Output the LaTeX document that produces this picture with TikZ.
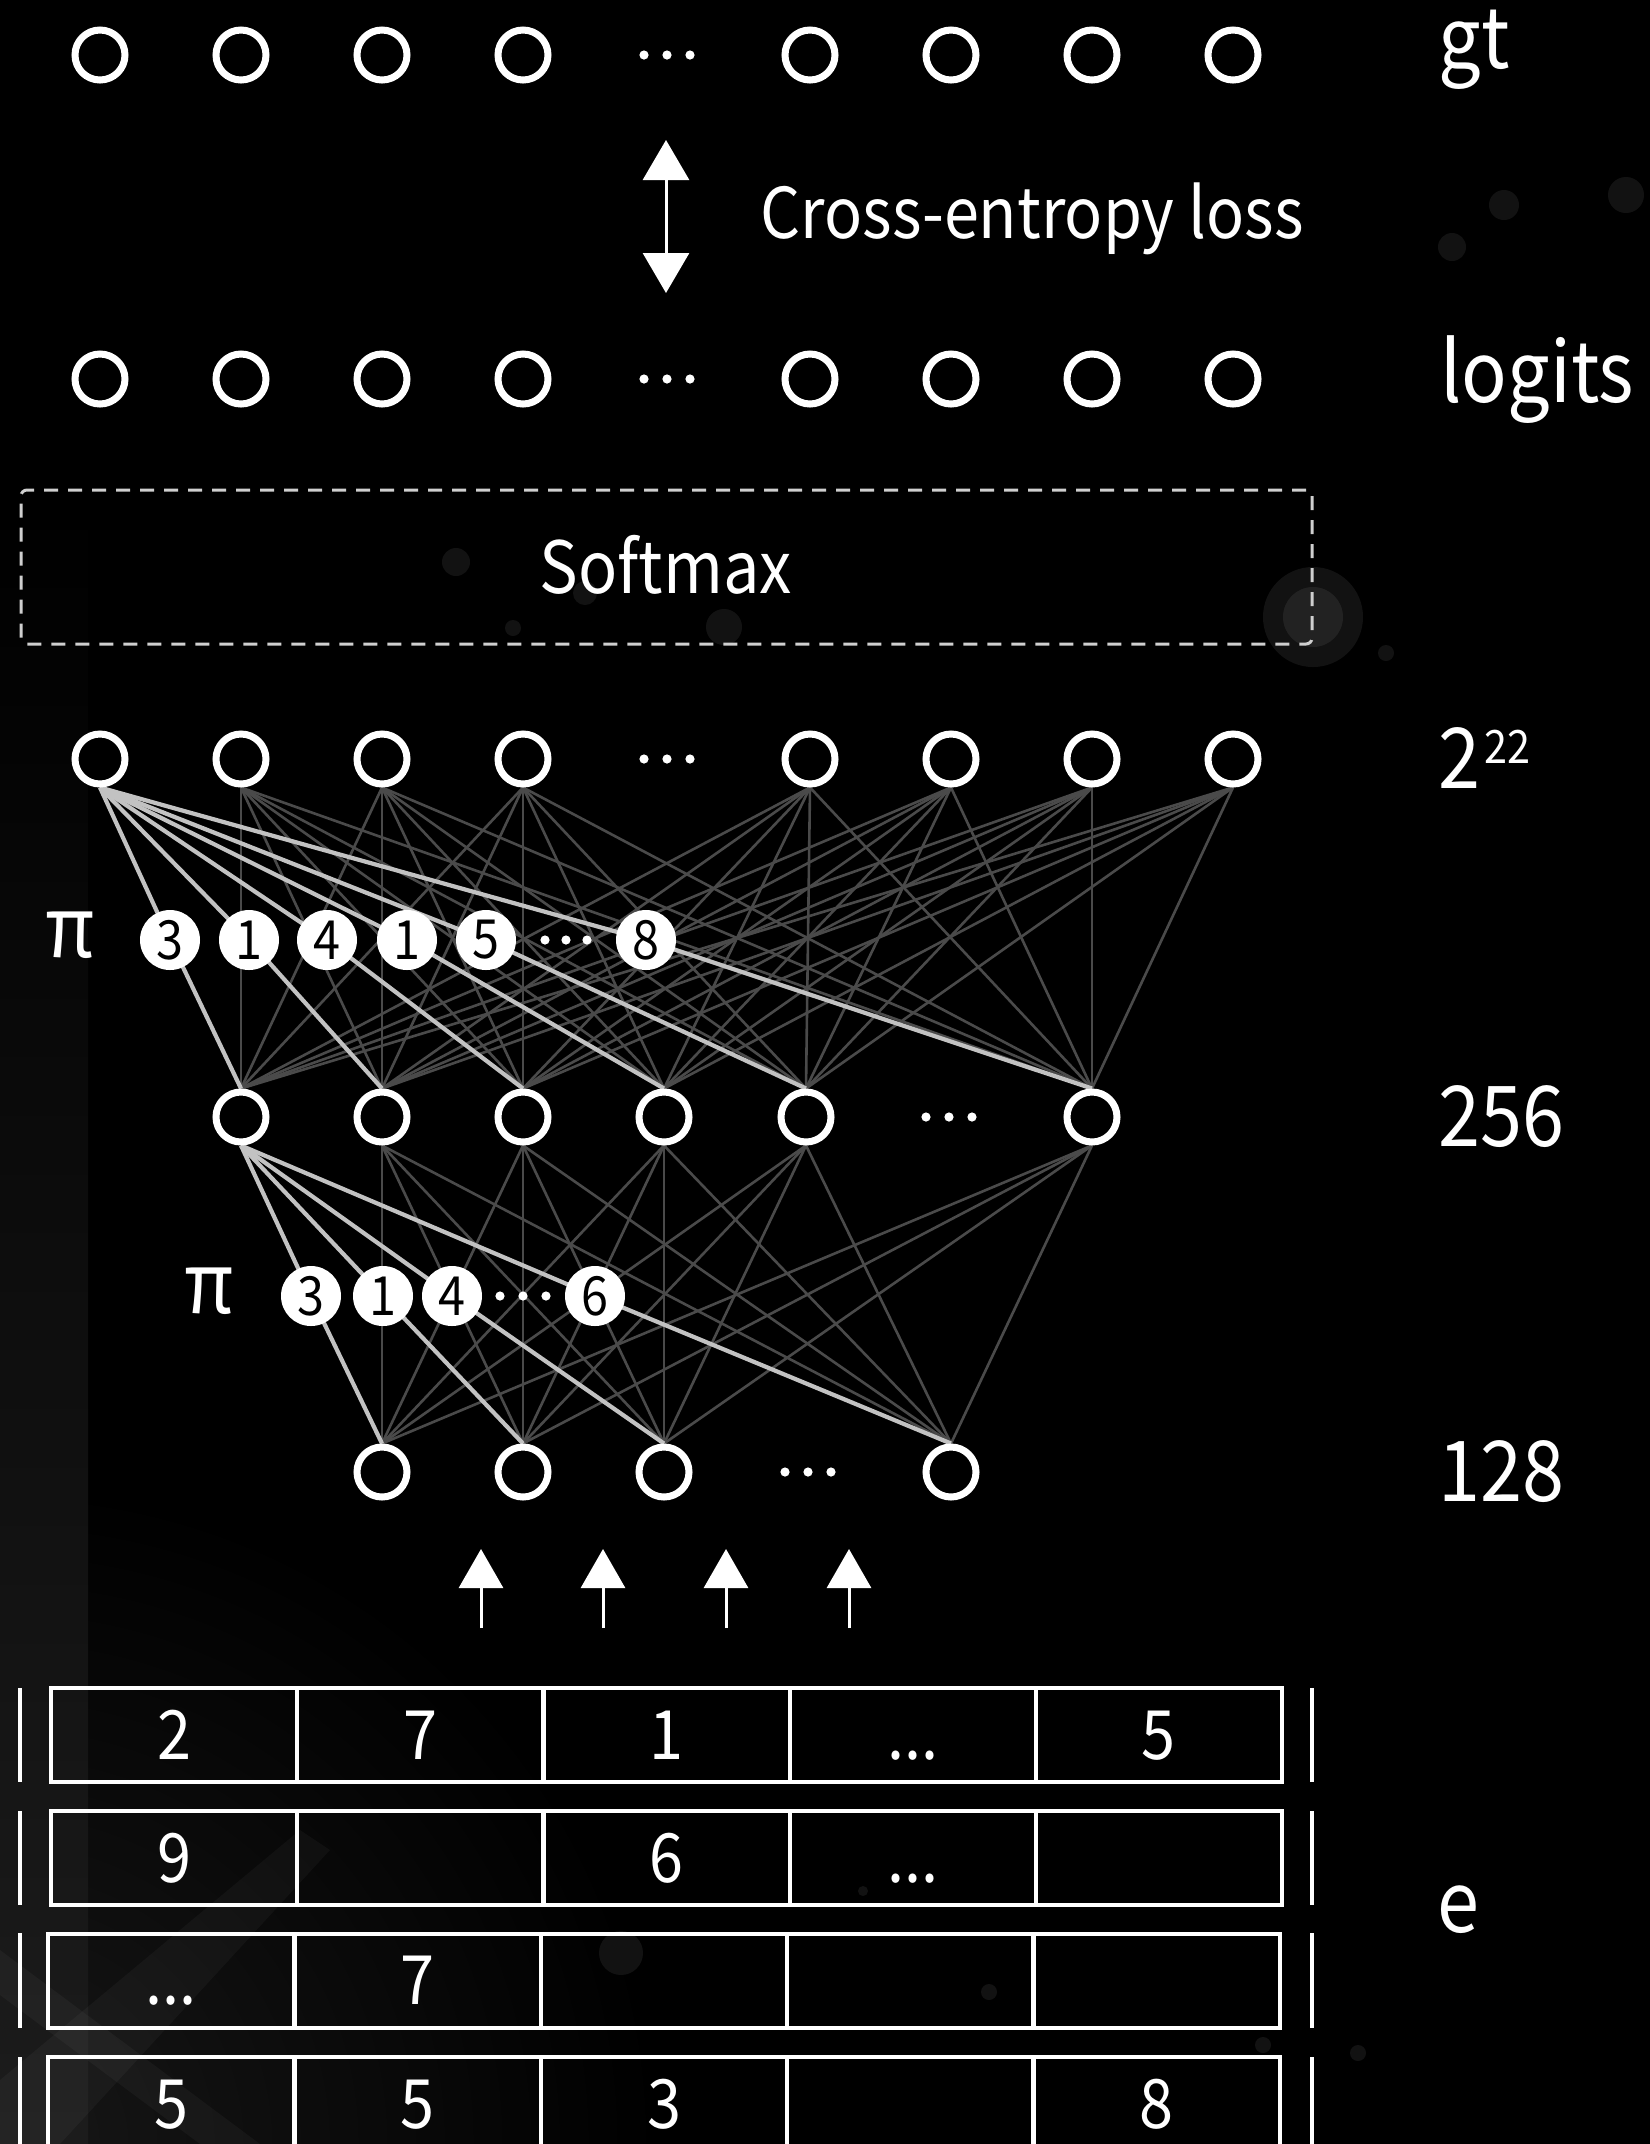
\documentclass[tikz,border=0pt]{standalone}
\usepackage{fontspec}
\setmainfont{Noto Sans CJK SC}[FakeStretch=0.9]
\usetikzlibrary{arrows.meta}
\pgfdeclarelayer{backdrop}
\pgfdeclarelayer{wires}
\pgfsetlayers{backdrop,wires,main}
\definecolor{wiregray}{HTML}{4A4A4A}
\definecolor{hotgray}{HTML}{C2C2C2}
\definecolor{dashgray}{HTML}{CFCFCF}

% three small dots standing for omitted units
\newcommand\unitdots[3]{%
  \fill[white] ({#1-#3},#2) circle (2.3pt) (#1,#2) circle (2.3pt) ({#1+#3},#2) circle (2.3pt);}

\begin{document}
\begin{tikzpicture}[x=0.5pt,y=-0.5pt,
  unit/.style={circle,draw=white,fill=black,line width=3.5pt,inner sep=0pt,minimum size=25pt},
  perm/.style={circle,fill=white,text=black,inner sep=0pt,minimum size=30pt,font=\fontsize{27}{27}\selectfont},
  wire/.style={draw=wiregray,line width=1.3pt},
  hot/.style={draw=hotgray,line width=2.1pt},
  rowlabel/.style={anchor=base west,text=white,inner sep=0pt,font=\fontsize{42}{42}\selectfont},
  cell/.style={draw=white,line width=2pt,rectangle,inner sep=0pt,minimum width=123pt,minimum height=47pt,
    text height=24pt,text depth=0pt,text=white,font=\fontsize{34}{34}\selectfont},
  bar/.style={draw=white,line width=2pt},
  bokeh/.style={fill=white,opacity=0.07},
  uparrow/.style={draw=white,line width=1.5pt,-{Triangle[width=22pt,length=19.5pt]}},
]
\useasboundingbox (0,0) rectangle (1650,2144);

% ---------- backdrop ----------
\begin{pgfonlayer}{backdrop}
  \fill[black] (0,0) rectangle (1650,2144);
  \shade[inner color=white!9!black, outer color=black] (0,2144) circle (330pt);
  \shade[top color=black, bottom color=white!11!black] (0,500) rectangle (88,2144);
  \fill[white,opacity=0.035] (0,1950) -- (260,2144) -- (200,2144) -- (0,1995) -- cycle;
  \fill[white,opacity=0.035] (0,2080) -- (300,1830) -- (330,1850) -- (60,2144) -- (0,2144) -- cycle;
  \fill[bokeh] (1313,617) circle (25pt);
  \fill[bokeh] (1313,617) circle (15pt);
  \fill[bokeh] (1504,205) circle (7.5pt);
  \fill[bokeh] (1452,247) circle (7pt);
  \fill[bokeh] (1626,195) circle (9pt);
  \fill[bokeh] (1386,653) circle (4pt);
  \fill[bokeh] (456,562) circle (7pt);
  \fill[bokeh] (585,593) circle (6pt);
  \fill[bokeh] (724,627) circle (9pt);
  \fill[bokeh] (513,628) circle (4pt);
  \fill[bokeh] (621,1953) circle (11pt);
  \fill[bokeh] (989,1992) circle (4pt);
  \fill[bokeh] (1263,2045) circle (4pt);
  \fill[bokeh] (1358,2053) circle (4pt);
  \fill[bokeh] (863,1891) circle (2.5pt);
\end{pgfonlayer}

% ---------- ground truth and logits ----------
\foreach \x [count=\i] in {100,241,382,523,810,951,1092,1233} {
  \node[unit] (gt\i) at (\x,55) {};
  \node[unit] (lg\i) at (\x,379) {};
}
\unitdots{667}{55}{23}
\unitdots{667}{379}{23}
\node[rowlabel] (gtlabel) at (1438,68) {gt};
\node[rowlabel] (lglabel) at (1440,402) {logits};

\coordinate (lossTop) at (666,140);
\coordinate (lossBot) at (666,293);
\draw[white,line width=1.5pt,{Triangle[width=23pt,length=20pt]}-{Triangle[width=23pt,length=20pt]}] (lossTop) -- (lossBot);
\node[anchor=base west,text=white,inner sep=0pt,font=\fontsize{35}{35}\selectfont] (losslabel) at (760,238) {Cross-entropy loss};

% ---------- softmax ----------
\node[draw=dashgray,line width=1.5pt,dash pattern=on 7pt off 5pt,rounded corners=3pt,
  minimum width=645.5pt,minimum height=77pt,inner sep=0pt] (softbox) at (666.5,567) {};
\node[anchor=base,text=white,inner sep=0pt,font=\fontsize{36}{36}\selectfont] (softlabel) at (666,593) {Softmax};

% ---------- hidden layers ----------
\foreach \x [count=\i] in {100,241,382,523,810,951,1092,1233}
  \node[unit] (h\i) at (\x,759) {};
\unitdots{667}{759}{23}
\node[rowlabel] (hlabel) at (1438,788) {2\hspace{2pt}\raisebox{12.5pt}{\fontsize{23}{23}\selectfont 22}};

\foreach \x [count=\i] in {241,382,523,664,806,1092}
  \node[unit] (m\i) at (\x,1117) {};
\unitdots{949}{1117}{23}
\node[rowlabel] (mlabel) at (1438,1146) {256};

\foreach \x [count=\i] in {382,523,664,951}
  \node[unit] (b\i) at (\x,1472) {};
\unitdots{808}{1472}{23}
\node[rowlabel] (blabel) at (1438,1501) {128};

% permutations
\node[text=white,inner sep=0pt,font=\fontsize{42}{42}\selectfont] (pi1) at (70,935) {π};
\foreach \x/\d [count=\i] in {170/3,249/1,327/4,407/1,486/5,646/8}
  \node[perm] (p\i) at (\x,940) {\d};
\unitdots{566}{940}{21}

\node[text=white,inner sep=0pt,font=\fontsize{42}{42}\selectfont] (pi2) at (209,1291) {π};
\foreach \x/\d [count=\i] in {311/3,383/1,452/4,595/6}
  \node[perm] (q\i) at (\x,1296) {\d};
\unitdots{523}{1296}{23}

\begin{pgfonlayer}{wires}
  \foreach \i in {2,...,8}
    \foreach \j in {1,...,6}
      \draw[wire] (h\i.south) -- (m\j.north);
  \foreach \j in {1,...,6}
    \draw[hot] (h1.south) -- (p\j.center) -- (m\j.north);
  \foreach \i in {2,...,6}
    \foreach \j in {1,...,4}
      \draw[wire] (m\i.south) -- (b\j.north);
  \foreach \j in {1,...,4}
    \draw[hot] (m1.south) -- (q\j.center) -- (b\j.north);
\end{pgfonlayer}

% ---------- inputs ----------
\foreach \x [count=\i] in {481,603,726,849} {
  \coordinate (in\i) at (\x,1628);
  \coordinate (out\i) at (\x,1549);
  \draw[uparrow] (in\i) -- (out\i);
}

% ---------- embedding table ----------
\node[cell] (c11) at (174.1,1735) {2};
\node[cell] (c12) at (420.3,1735) {7};
\node[cell] (c13) at (666.5,1735) {1};
\node[cell] (c14) at (912.7,1735) {...};
\node[cell] (c15) at (1158.9,1735) {5};

\node[cell] (c21) at (174.1,1858) {9};
\node[cell] (c22) at (420.3,1858) {};
\node[cell] (c23) at (666.5,1858) {6};
\node[cell] (c24) at (912.7,1858) {...};
\node[cell] (c25) at (1158.9,1858) {};

\node[cell] (c31) at (171.2,1980.5) {...};
\node[cell] (c32) at (417.6,1980.5) {7};
\node[cell] (c33) at (664,1980.5) {};
\node[cell] (c34) at (910.4,1980.5) {};
\node[cell] (c35) at (1156.8,1980.5) {};

\node[cell] (c41) at (171.2,2104) {5};
\node[cell] (c42) at (417.6,2104) {5};
\node[cell] (c43) at (664,2104) {3};
\node[cell] (c44) at (910.4,2104) {};
\node[cell] (c45) at (1156.8,2104) {8};

\foreach \ya/\yb in {1688/1782,1811/1905,1933/2028,2057/2160} {
  \draw[bar] (20,\ya) -- (20,\yb);
  \draw[bar] (1312,\ya) -- (1312,\yb);
}
\node[rowlabel] (elabel) at (1437,1932) {e};
\end{tikzpicture}
\end{document}
